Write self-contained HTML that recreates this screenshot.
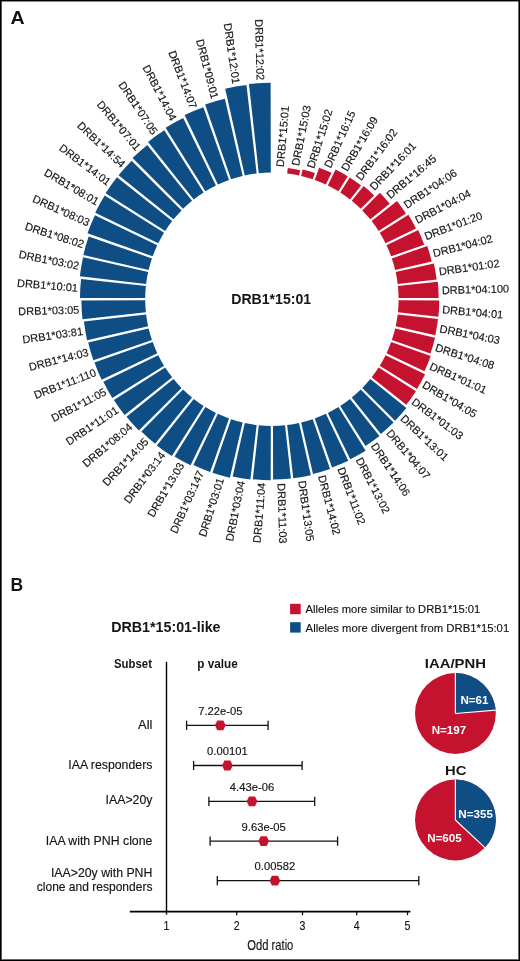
<!DOCTYPE html>
<html><head><meta charset="utf-8">
<style>
html,body{margin:0;padding:0;background:#fff;}
body{width:520px;height:961px;overflow:hidden;position:relative;}
svg{position:absolute;left:0;top:0;display:block;will-change:transform;}
text{font-family:"Liberation Sans",sans-serif;fill:#141414;stroke:#141414;stroke-width:0.15px;}
</style></head>
<body>
<svg width="520" height="961" viewBox="0 0 520 961">
<rect x="0" y="0" width="520" height="961" fill="#fff"/>
<rect x="0" y="1" width="520" height="1" fill="#888"/>
<rect x="1" y="0" width="1" height="961" fill="#555"/>
<rect x="518" y="0" width="1" height="961" fill="#666"/>
<rect x="0" y="959" width="520" height="1" fill="#666"/>
<rect x="0" y="0" width="520" height="1" fill="#000"/>
<rect x="0" y="0" width="1" height="961" fill="#000"/>
<rect x="519" y="0" width="1" height="961" fill="#000"/>
<rect x="0" y="960" width="520" height="1" fill="#000"/>
<g style="font-size:11.0px;stroke:#141414;stroke-width:0.2px">
<path d="M287.16,173.42 A126.70,126.70 0 0 1 299.03,175.44 L300.22,170.17 A132.10,132.10 0 0 0 287.78,168.06 Z" fill="#c5132f" stroke="none"/>
<path d="M301.15,175.92 A126.70,126.70 0 0 1 312.72,179.26 L314.89,173.02 A133.30,133.30 0 0 0 302.63,169.49 Z" fill="#c5132f" stroke="none"/>
<path d="M314.77,179.97 A126.70,126.70 0 0 1 325.89,184.58 L331.51,172.86 A139.70,139.70 0 0 0 319.09,167.71 Z" fill="#c5132f" stroke="none"/>
<path d="M327.85,185.52 A126.70,126.70 0 0 1 338.39,191.35 L347.77,176.34 A144.40,144.40 0 0 0 335.56,169.59 Z" fill="#c5132f" stroke="none"/>
<path d="M340.22,192.50 A126.70,126.70 0 0 1 350.04,199.47 L361.11,185.53 A144.50,144.50 0 0 0 349.73,177.45 Z" fill="#c5132f" stroke="none"/>
<path d="M351.74,200.82 A126.70,126.70 0 0 1 360.72,208.85 L374.12,195.38 A145.70,145.70 0 0 0 363.62,185.99 Z" fill="#c5132f" stroke="none"/>
<path d="M362.25,210.38 A126.70,126.70 0 0 1 370.28,219.36 L389.71,203.79 A151.60,151.60 0 0 0 379.90,192.81 Z" fill="#c5132f" stroke="none"/>
<path d="M371.63,221.06 A126.70,126.70 0 0 1 378.60,230.88 L405.99,213.58 A159.10,159.10 0 0 0 397.01,200.91 Z" fill="#c5132f" stroke="none"/>
<path d="M379.75,232.71 A126.70,126.70 0 0 1 385.58,243.25 L416.00,228.52 A160.50,160.50 0 0 0 408.41,214.79 Z" fill="#c5132f" stroke="none"/>
<path d="M386.52,245.21 A126.70,126.70 0 0 1 391.13,256.33 L424.23,244.66 A161.80,161.80 0 0 0 418.18,230.05 Z" fill="#c5132f" stroke="none"/>
<path d="M391.84,258.38 A126.70,126.70 0 0 1 395.18,269.95 L431.72,261.52 A164.20,164.20 0 0 0 427.27,246.07 Z" fill="#c5132f" stroke="none"/>
<path d="M395.66,272.07 A126.70,126.70 0 0 1 397.68,283.94 L436.62,279.46 A165.90,165.90 0 0 0 433.90,263.43 Z" fill="#c5132f" stroke="none"/>
<path d="M397.92,286.09 A126.70,126.70 0 0 1 398.60,298.11 L438.70,298.02 A166.80,166.80 0 0 0 437.78,281.69 Z" fill="#c5132f" stroke="none"/>
<path d="M398.60,300.29 A126.70,126.70 0 0 1 397.92,312.31 L438.38,316.77 A167.40,167.40 0 0 0 439.30,300.38 Z" fill="#c5132f" stroke="none"/>
<path d="M397.68,314.46 A126.70,126.70 0 0 1 395.66,326.33 L435.26,335.28 A167.30,167.30 0 0 0 438.01,319.10 Z" fill="#c5132f" stroke="none"/>
<path d="M395.18,328.45 A126.70,126.70 0 0 1 391.84,340.02 L430.48,353.44 A167.60,167.60 0 0 0 435.03,337.64 Z" fill="#c5132f" stroke="none"/>
<path d="M391.13,342.07 A126.70,126.70 0 0 1 386.52,353.19 L424.40,371.33 A168.70,168.70 0 0 0 430.74,356.03 Z" fill="#c5132f" stroke="none"/>
<path d="M385.58,355.15 A126.70,126.70 0 0 1 379.75,365.69 L416.98,388.96 A170.60,170.60 0 0 0 425.09,374.29 Z" fill="#c5132f" stroke="none"/>
<path d="M378.60,367.52 A126.70,126.70 0 0 1 371.63,377.34 L406.25,404.83 A170.90,170.90 0 0 0 415.97,391.13 Z" fill="#c5132f" stroke="none"/>
<path d="M370.28,379.04 A126.70,126.70 0 0 1 362.25,388.02 L395.07,420.69 A173.00,173.00 0 0 0 406.41,407.99 Z" fill="#0f4e85" stroke="none"/>
<path d="M360.72,389.55 A126.70,126.70 0 0 1 351.74,397.58 L380.88,433.95 A173.30,173.30 0 0 0 393.60,422.58 Z" fill="#0f4e85" stroke="none"/>
<path d="M350.04,398.93 A126.70,126.70 0 0 1 340.22,405.90 L365.48,445.89 A174.00,174.00 0 0 0 379.45,435.98 Z" fill="#0f4e85" stroke="none"/>
<path d="M338.39,407.05 A126.70,126.70 0 0 1 327.85,412.88 L350.25,459.14 A178.10,178.10 0 0 0 365.64,450.64 Z" fill="#0f4e85" stroke="none"/>
<path d="M325.89,413.82 A126.70,126.70 0 0 1 314.77,418.43 L332.02,467.38 A178.60,178.60 0 0 0 348.31,460.63 Z" fill="#0f4e85" stroke="none"/>
<path d="M312.72,419.14 A126.70,126.70 0 0 1 301.15,422.48 L313.02,473.93 A179.50,179.50 0 0 0 330.05,469.02 Z" fill="#0f4e85" stroke="none"/>
<path d="M299.03,422.96 A126.70,126.70 0 0 1 287.16,424.98 L293.28,478.23 A180.30,180.30 0 0 0 310.84,475.24 Z" fill="#0f4e85" stroke="none"/>
<path d="M285.01,425.22 A126.70,126.70 0 0 1 272.99,425.90 L273.11,479.60 A180.40,180.40 0 0 0 290.90,478.60 Z" fill="#0f4e85" stroke="none"/>
<path d="M270.81,425.90 A126.70,126.70 0 0 1 258.79,425.22 L252.83,479.19 A181.00,181.00 0 0 0 270.69,480.20 Z" fill="#0f4e85" stroke="none"/>
<path d="M256.64,424.98 A126.70,126.70 0 0 1 244.77,422.96 L232.67,476.51 A181.60,181.60 0 0 0 250.37,479.52 Z" fill="#0f4e85" stroke="none"/>
<path d="M242.65,422.48 A126.70,126.70 0 0 1 231.08,419.14 L212.44,472.80 A183.50,183.50 0 0 0 229.89,477.83 Z" fill="#0f4e85" stroke="none"/>
<path d="M229.03,418.43 A126.70,126.70 0 0 1 217.91,413.82 L193.38,465.05 A183.50,183.50 0 0 0 210.15,472.00 Z" fill="#0f4e85" stroke="none"/>
<path d="M215.95,412.88 A126.70,126.70 0 0 1 205.41,407.05 L174.51,456.49 A185.00,185.00 0 0 0 190.54,465.35 Z" fill="#0f4e85" stroke="none"/>
<path d="M203.58,405.90 A126.70,126.70 0 0 1 193.76,398.93 L156.82,445.46 A186.10,186.10 0 0 0 171.86,456.12 Z" fill="#0f4e85" stroke="none"/>
<path d="M192.06,397.58 A126.70,126.70 0 0 1 183.08,389.55 L141.38,431.44 A185.80,185.80 0 0 0 155.11,443.70 Z" fill="#0f4e85" stroke="none"/>
<path d="M181.55,388.02 A126.70,126.70 0 0 1 173.52,379.04 L126.54,416.68 A186.90,186.90 0 0 0 138.88,430.49 Z" fill="#0f4e85" stroke="none"/>
<path d="M172.17,377.34 A126.70,126.70 0 0 1 165.20,367.52 L113.88,399.94 A187.40,187.40 0 0 0 124.63,415.08 Z" fill="#0f4e85" stroke="none"/>
<path d="M164.05,365.69 A126.70,126.70 0 0 1 158.22,355.15 L103.32,381.74 A187.70,187.70 0 0 0 112.32,398.03 Z" fill="#0f4e85" stroke="none"/>
<path d="M157.28,353.19 A126.70,126.70 0 0 1 152.67,342.07 L94.48,362.58 A188.40,188.40 0 0 0 101.63,379.84 Z" fill="#0f4e85" stroke="none"/>
<path d="M151.96,340.02 A126.70,126.70 0 0 1 148.62,328.45 L88.21,342.38 A188.70,188.70 0 0 0 93.39,360.37 Z" fill="#0f4e85" stroke="none"/>
<path d="M148.14,326.33 A126.70,126.70 0 0 1 146.12,314.46 L83.93,321.61 A189.30,189.30 0 0 0 87.08,340.13 Z" fill="#0f4e85" stroke="none"/>
<path d="M145.88,312.31 A126.70,126.70 0 0 1 145.20,300.29 L81.40,300.43 A190.50,190.50 0 0 0 82.46,319.31 Z" fill="#0f4e85" stroke="none"/>
<path d="M145.20,298.11 A126.70,126.70 0 0 1 145.88,286.09 L81.07,278.94 A191.90,191.90 0 0 0 80.00,297.97 Z" fill="#0f4e85" stroke="none"/>
<path d="M146.12,283.94 A126.70,126.70 0 0 1 148.14,272.07 L83.08,257.37 A193.40,193.40 0 0 0 79.86,276.32 Z" fill="#0f4e85" stroke="none"/>
<path d="M148.62,269.95 A126.70,126.70 0 0 1 151.96,258.38 L88.67,236.39 A193.70,193.70 0 0 0 83.34,254.89 Z" fill="#0f4e85" stroke="none"/>
<path d="M152.67,256.33 A126.70,126.70 0 0 1 157.28,245.21 L94.96,215.36 A195.80,195.80 0 0 0 87.50,233.36 Z" fill="#0f4e85" stroke="none"/>
<path d="M158.22,243.25 A126.70,126.70 0 0 1 164.05,232.71 L104.69,195.60 A196.70,196.70 0 0 0 95.22,212.74 Z" fill="#0f4e85" stroke="none"/>
<path d="M165.20,230.88 A126.70,126.70 0 0 1 172.17,221.06 L116.95,177.22 A197.20,197.20 0 0 0 105.59,193.23 Z" fill="#0f4e85" stroke="none"/>
<path d="M173.52,219.36 A126.70,126.70 0 0 1 181.55,210.38 L131.65,160.71 A197.10,197.10 0 0 0 118.58,175.34 Z" fill="#0f4e85" stroke="none"/>
<path d="M183.08,208.85 A126.70,126.70 0 0 1 192.06,200.82 L147.29,144.94 A198.30,198.30 0 0 0 132.56,158.10 Z" fill="#0f4e85" stroke="none"/>
<path d="M193.76,199.47 A126.70,126.70 0 0 1 203.58,192.50 L164.33,130.35 A200.20,200.20 0 0 0 148.06,141.90 Z" fill="#0f4e85" stroke="none"/>
<path d="M205.41,191.35 A126.70,126.70 0 0 1 215.95,185.52 L183.21,117.93 A201.80,201.80 0 0 0 165.60,127.67 Z" fill="#0f4e85" stroke="none"/>
<path d="M217.91,184.58 A126.70,126.70 0 0 1 229.03,179.97 L203.40,107.26 A203.80,203.80 0 0 0 184.61,115.04 Z" fill="#0f4e85" stroke="none"/>
<path d="M231.08,179.26 A126.70,126.70 0 0 1 242.65,175.92 L224.85,98.75 A205.90,205.90 0 0 0 205.09,104.44 Z" fill="#0f4e85" stroke="none"/>
<path d="M244.77,175.44 A126.70,126.70 0 0 1 256.64,173.42 L246.48,85.10 A215.60,215.60 0 0 0 225.18,88.72 Z" fill="#0f4e85" stroke="none"/>
<path d="M258.79,173.18 A126.70,126.70 0 0 1 270.81,172.50 L270.61,82.80 A216.40,216.40 0 0 0 248.95,84.02 Z" fill="#0f4e85" stroke="none"/>
<text transform="translate(279.73,166.84) rotate(-85.19)" x="0" y="4.08" text-anchor="start">DRB1*15:01</text>
<text transform="translate(295.02,165.52) rotate(-78.76)" x="0" y="4.08" text-anchor="start">DRB1*15:03</text>
<text transform="translate(310.17,167.81) rotate(-72.33)" x="0" y="4.08" text-anchor="start">DRB1*15:02</text>
<text transform="translate(327.10,167.04) rotate(-65.90)" x="0" y="4.08" text-anchor="start">DRB1*16:15</text>
<text transform="translate(343.83,169.96) rotate(-59.47)" x="0" y="4.08" text-anchor="start">DRB1*16:09</text>
<text transform="translate(357.89,178.77) rotate(-53.04)" x="0" y="4.08" text-anchor="start">DRB1*16:02</text>
<text transform="translate(371.62,188.27) rotate(-46.61)" x="0" y="4.08" text-anchor="start">DRB1*16:01</text>
<text transform="translate(387.81,196.23) rotate(-40.19)" x="0" y="4.08" text-anchor="start">DRB1*16:45</text>
<text transform="translate(404.72,205.55) rotate(-33.76)" x="0" y="4.08" text-anchor="start">DRB1*04:06</text>
<text transform="translate(415.58,220.35) rotate(-27.33)" x="0" y="4.08" text-anchor="start">DRB1*04:04</text>
<text transform="translate(424.69,236.44) rotate(-20.90)" x="0" y="4.08" text-anchor="start">DRB1*01:20</text>
<text transform="translate(433.04,253.29) rotate(-14.47)" x="0" y="4.08" text-anchor="start">DRB1*04:02</text>
<text transform="translate(438.82,271.35) rotate(-8.04)" x="0" y="4.08" text-anchor="start">DRB1*01:02</text>
<text transform="translate(441.77,290.17) rotate(-1.61)" x="0" y="4.08" text-anchor="start">DRB1*04:100</text>
<text transform="translate(442.26,309.27) rotate(4.81)" x="0" y="4.08" text-anchor="start">DRB1*04:01</text>
<text transform="translate(439.89,328.26) rotate(11.24)" x="0" y="4.08" text-anchor="start">DRB1*04:03</text>
<text transform="translate(435.79,346.94) rotate(17.67)" x="0" y="4.08" text-anchor="start">DRB1*04:08</text>
<text transform="translate(430.36,365.39) rotate(24.10)" x="0" y="4.08" text-anchor="start">DRB1*01:01</text>
<text transform="translate(423.51,383.58) rotate(30.53)" x="0" y="4.08" text-anchor="start">DRB1*04:05</text>
<text transform="translate(413.23,400.11) rotate(36.96)" x="0" y="4.08" text-anchor="start">DRB1*01:03</text>
<text transform="translate(402.49,416.60) rotate(43.39)" x="0" y="4.08" text-anchor="start">DRB1*13:01</text>
<text transform="translate(388.85,430.85) rotate(49.81)" x="0" y="4.08" text-anchor="start">DRB1*04:07</text>
<text transform="translate(373.89,443.85) rotate(56.24)" x="0" y="4.08" text-anchor="start">DRB1*14:06</text>
<text transform="translate(359.12,458.12) rotate(62.67)" x="0" y="4.08" text-anchor="start">DRB1*13:02</text>
<text transform="translate(341.04,467.52) rotate(69.10)" x="0" y="4.08" text-anchor="start">DRB1*11:02</text>
<text transform="translate(322.05,475.25) rotate(75.53)" x="0" y="4.08" text-anchor="start">DRB1*14:02</text>
<text transform="translate(302.19,480.72) rotate(81.96)" x="0" y="4.08" text-anchor="start">DRB1*13:05</text>
<text transform="translate(281.69,483.25) rotate(88.39)" x="0" y="4.08" text-anchor="start">DRB1*11:03</text>
<text transform="translate(261.55,482.68) rotate(-85.19)" x="0" y="4.08" text-anchor="end">DRB1*11:04</text>
<text transform="translate(240.97,480.90) rotate(-78.76)" x="0" y="4.08" text-anchor="end">DRB1*03:04</text>
<text transform="translate(220.29,478.07) rotate(-72.33)" x="0" y="4.08" text-anchor="end">DRB1*03:01</text>
<text transform="translate(200.60,471.11) rotate(-65.90)" x="0" y="4.08" text-anchor="end">DRB1*03:147</text>
<text transform="translate(181.07,463.30) rotate(-59.47)" x="0" y="4.08" text-anchor="end">DRB1*13:03</text>
<text transform="translate(162.63,452.93) rotate(-53.04)" x="0" y="4.08" text-anchor="end">DRB1*03:14</text>
<text transform="translate(146.31,439.45) rotate(-46.61)" x="0" y="4.08" text-anchor="end">DRB1*14:05</text>
<text transform="translate(130.58,425.19) rotate(-40.19)" x="0" y="4.08" text-anchor="end">DRB1*08:04</text>
<text transform="translate(116.95,408.80) rotate(-33.76)" x="0" y="4.08" text-anchor="end">DRB1*11:01</text>
<text transform="translate(105.40,390.85) rotate(-27.33)" x="0" y="4.08" text-anchor="end">DRB1*11:05</text>
<text transform="translate(95.54,371.84) rotate(-20.90)" x="0" y="4.08" text-anchor="end">DRB1*11:110</text>
<text transform="translate(88.23,351.67) rotate(-14.47)" x="0" y="4.08" text-anchor="end">DRB1*14:03</text>
<text transform="translate(82.92,330.82) rotate(-8.04)" x="0" y="4.08" text-anchor="end">DRB1*03:81</text>
<text transform="translate(79.37,309.47) rotate(-1.61)" x="0" y="4.08" text-anchor="end">DRB1*03:05</text>
<text transform="translate(78.04,287.71) rotate(4.81)" x="0" y="4.08" text-anchor="end">DRB1*10:01</text>
<text transform="translate(79.07,265.76) rotate(11.24)" x="0" y="4.08" text-anchor="end">DRB1*03:02</text>
<text transform="translate(83.74,244.24) rotate(17.67)" x="0" y="4.08" text-anchor="end">DRB1*08:02</text>
<text transform="translate(89.14,222.66) rotate(24.10)" x="0" y="4.08" text-anchor="end">DRB1*08:03</text>
<text transform="translate(98.08,202.18) rotate(30.53)" x="0" y="4.08" text-anchor="end">DRB1*08:01</text>
<text transform="translate(109.63,182.98) rotate(36.96)" x="0" y="4.08" text-anchor="end">DRB1*14:01</text>
<text transform="translate(123.74,165.56) rotate(43.39)" x="0" y="4.08" text-anchor="end">DRB1*14:54</text>
<text transform="translate(138.84,148.85) rotate(49.81)" x="0" y="4.08" text-anchor="end">DRB1*07:01</text>
<text transform="translate(155.42,133.29) rotate(56.24)" x="0" y="4.08" text-anchor="end">DRB1*07:05</text>
<text transform="translate(173.96,119.84) rotate(62.67)" x="0" y="4.08" text-anchor="end">DRB1*14:04</text>
<text transform="translate(193.90,108.09) rotate(69.10)" x="0" y="4.08" text-anchor="end">DRB1*14:07</text>
<text transform="translate(215.22,98.49) rotate(75.53)" x="0" y="4.08" text-anchor="end">DRB1*09:01</text>
<text transform="translate(236.46,83.78) rotate(81.96)" x="0" y="4.08" text-anchor="end">DRB1*12:01</text>
<text transform="translate(260.76,80.31) rotate(88.39)" x="0" y="4.08" text-anchor="end">DRB1*12:02</text>
</g>
<text transform="translate(10.60,23.60) scale(1.1200,1)" text-anchor="start" style="font-size:17.50px;font-weight:bold;stroke-width:0;">A</text>
<text x="10.60" y="590.60" text-anchor="start" style="font-size:17.50px;font-weight:bold;stroke-width:0;">B</text>
<text x="271.20" y="303.60" text-anchor="middle" style="font-size:14.10px;font-weight:bold;stroke-width:0;">DRB1*15:01</text>
<text transform="translate(111.20,632.40) scale(1.0120,1)" text-anchor="start" style="font-size:14.10px;font-weight:bold;stroke-width:0;">DRB1*15:01-like</text>
<text transform="translate(114.00,667.70) scale(0.9500,1)" text-anchor="start" style="font-size:12.00px;font-weight:bold;stroke-width:0;">Subset</text>
<text transform="translate(197.20,667.70) scale(0.9800,1)" text-anchor="start" style="font-size:12.00px;font-weight:bold;stroke-width:0;">p value</text>
<line x1="166.5" y1="661.8" x2="166.5" y2="914.6" stroke="#000" stroke-width="1.4"/>
<line x1="129.8" y1="911.6" x2="410.4" y2="911.6" stroke="#000" stroke-width="1.6"/>
<text transform="translate(166.40,929.80) scale(0.8800,1)" text-anchor="middle" style="font-size:12.00px;">1</text>
<line x1="236.7" y1="911.9" x2="236.7" y2="915.2" stroke="#111" stroke-width="1.3"/>
<text transform="translate(236.70,929.80) scale(0.8800,1)" text-anchor="middle" style="font-size:12.00px;">2</text>
<line x1="302.5" y1="911.9" x2="302.5" y2="915.2" stroke="#111" stroke-width="1.3"/>
<text transform="translate(302.50,929.80) scale(0.8800,1)" text-anchor="middle" style="font-size:12.00px;">3</text>
<line x1="356.7" y1="911.9" x2="356.7" y2="915.2" stroke="#111" stroke-width="1.3"/>
<text transform="translate(356.70,929.80) scale(0.8800,1)" text-anchor="middle" style="font-size:12.00px;">4</text>
<line x1="407.5" y1="911.9" x2="407.5" y2="915.2" stroke="#111" stroke-width="1.3"/>
<text transform="translate(407.50,929.80) scale(0.8800,1)" text-anchor="middle" style="font-size:12.00px;">5</text>
<text transform="translate(270.30,949.60) scale(0.7900,1)" text-anchor="middle" style="font-size:14.20px;">Odd ratio</text>
<rect x="290.1" y="603.8" width="10.6" height="10.4" fill="#c5132f"/>
<rect x="290.1" y="622.2" width="10.6" height="10.4" fill="#0f4e85"/>
<text x="305.60" y="613.10" text-anchor="start" style="font-size:11.20px;">Alleles more similar to DRB1*15:01</text>
<text transform="translate(305.60,631.60) scale(1.0100,1)" text-anchor="start" style="font-size:11.20px;">Alleles more divergent from DRB1*15:01</text>
<text transform="translate(455.40,668.00) scale(1.1100,1)" text-anchor="middle" style="font-size:13.40px;font-weight:bold;stroke-width:0;">IAA/PNH</text>
<circle cx="455.40" cy="713.50" r="40.40" fill="#c5132f"/>
<path d="M455.40,713.50 L455.40,673.10 A40.40,40.40 0 0 1 495.65,710.06 Z" fill="#0f4e85"/>
<line x1="455.40" y1="713.50" x2="455.40" y2="673.10" stroke="#fff" stroke-width="1.2"/>
<line x1="455.40" y1="713.50" x2="495.65" y2="710.06" stroke="#fff" stroke-width="1.2"/>
<text x="474.40" y="704.20" text-anchor="middle" style="font-size:11.60px;font-weight:bold;stroke-width:0;fill:#fff;">N=61</text>
<text x="448.90" y="733.50" text-anchor="middle" style="font-size:11.60px;font-weight:bold;stroke-width:0;fill:#fff;">N=197</text>
<text transform="translate(455.70,775.00) scale(1.1100,1)" text-anchor="middle" style="font-size:13.40px;font-weight:bold;stroke-width:0;">HC</text>
<circle cx="455.40" cy="820.00" r="40.40" fill="#c5132f"/>
<path d="M455.40,820.00 L455.40,779.60 A40.40,40.40 0 0 1 484.89,847.62 Z" fill="#0f4e85"/>
<line x1="455.40" y1="820.00" x2="455.40" y2="779.60" stroke="#fff" stroke-width="1.2"/>
<line x1="455.40" y1="820.00" x2="484.89" y2="847.62" stroke="#fff" stroke-width="1.2"/>
<text x="475.60" y="818.20" text-anchor="middle" style="font-size:11.60px;font-weight:bold;stroke-width:0;fill:#fff;">N=355</text>
<text x="444.40" y="841.90" text-anchor="middle" style="font-size:11.60px;font-weight:bold;stroke-width:0;fill:#fff;">N=605</text>
<line x1="186.6" y1="725.3" x2="268.1" y2="725.3" stroke="#111" stroke-width="1.3"/>
<line x1="186.6" y1="720.7" x2="186.6" y2="729.9" stroke="#111" stroke-width="1.3"/>
<line x1="268.1" y1="720.7" x2="268.1" y2="729.9" stroke="#111" stroke-width="1.3"/>
<polygon points="214.95,725.30 217.30,720.40 223.30,720.40 225.65,725.30 223.30,730.20 217.30,730.20" fill="#c5132f"/>
<text transform="translate(220.30,714.90) scale(1.0600,1)" text-anchor="middle" style="font-size:10.60px;">7.22e-05</text>
<line x1="193.6" y1="765.5" x2="302.1" y2="765.5" stroke="#111" stroke-width="1.3"/>
<line x1="193.6" y1="760.9" x2="193.6" y2="770.1" stroke="#111" stroke-width="1.3"/>
<line x1="302.1" y1="760.9" x2="302.1" y2="770.1" stroke="#111" stroke-width="1.3"/>
<polygon points="222.05,765.50 224.40,760.60 230.40,760.60 232.75,765.50 230.40,770.40 224.40,770.40" fill="#c5132f"/>
<text transform="translate(227.40,755.10) scale(1.0600,1)" text-anchor="middle" style="font-size:10.60px;">0.00101</text>
<line x1="208.9" y1="801.3" x2="314.7" y2="801.3" stroke="#111" stroke-width="1.3"/>
<line x1="208.9" y1="796.7" x2="208.9" y2="805.9" stroke="#111" stroke-width="1.3"/>
<line x1="314.7" y1="796.7" x2="314.7" y2="805.9" stroke="#111" stroke-width="1.3"/>
<polygon points="246.65,801.30 249.00,796.40 255.00,796.40 257.35,801.30 255.00,806.20 249.00,806.20" fill="#c5132f"/>
<text transform="translate(252.00,790.90) scale(1.0600,1)" text-anchor="middle" style="font-size:10.60px;">4.43e-06</text>
<line x1="210.1" y1="841.1" x2="337.6" y2="841.1" stroke="#111" stroke-width="1.3"/>
<line x1="210.1" y1="836.5" x2="210.1" y2="845.7" stroke="#111" stroke-width="1.3"/>
<line x1="337.6" y1="836.5" x2="337.6" y2="845.7" stroke="#111" stroke-width="1.3"/>
<polygon points="258.35,841.10 260.70,836.20 266.70,836.20 269.05,841.10 266.70,846.00 260.70,846.00" fill="#c5132f"/>
<text transform="translate(263.70,830.70) scale(1.0600,1)" text-anchor="middle" style="font-size:10.60px;">9.63e-05</text>
<line x1="217.3" y1="880.7" x2="418.8" y2="880.7" stroke="#111" stroke-width="1.3"/>
<line x1="217.3" y1="876.1" x2="217.3" y2="885.3" stroke="#111" stroke-width="1.3"/>
<line x1="418.8" y1="876.1" x2="418.8" y2="885.3" stroke="#111" stroke-width="1.3"/>
<polygon points="269.55,880.70 271.90,875.80 277.90,875.80 280.25,880.70 277.90,885.60 271.90,885.60" fill="#c5132f"/>
<text transform="translate(274.90,870.30) scale(1.0600,1)" text-anchor="middle" style="font-size:10.60px;">0.00582</text>
<text transform="translate(152.40,728.90) scale(1.0500,1)" text-anchor="end" style="font-size:12.30px;">All</text>
<text x="152.40" y="769.20" text-anchor="end" style="font-size:12.30px;">IAA responders</text>
<text x="152.40" y="804.40" text-anchor="end" style="font-size:12.30px;">IAA&gt;20y</text>
<text x="152.40" y="844.80" text-anchor="end" style="font-size:12.30px;">IAA with PNH clone</text>
<text x="152.40" y="877.40" text-anchor="end" style="font-size:12.30px;">IAA&gt;20y with PNH</text>
<text transform="translate(152.40,891.00) scale(0.9780,1)" text-anchor="end" style="font-size:12.30px;">clone and responders</text>
</svg>
</body></html>
